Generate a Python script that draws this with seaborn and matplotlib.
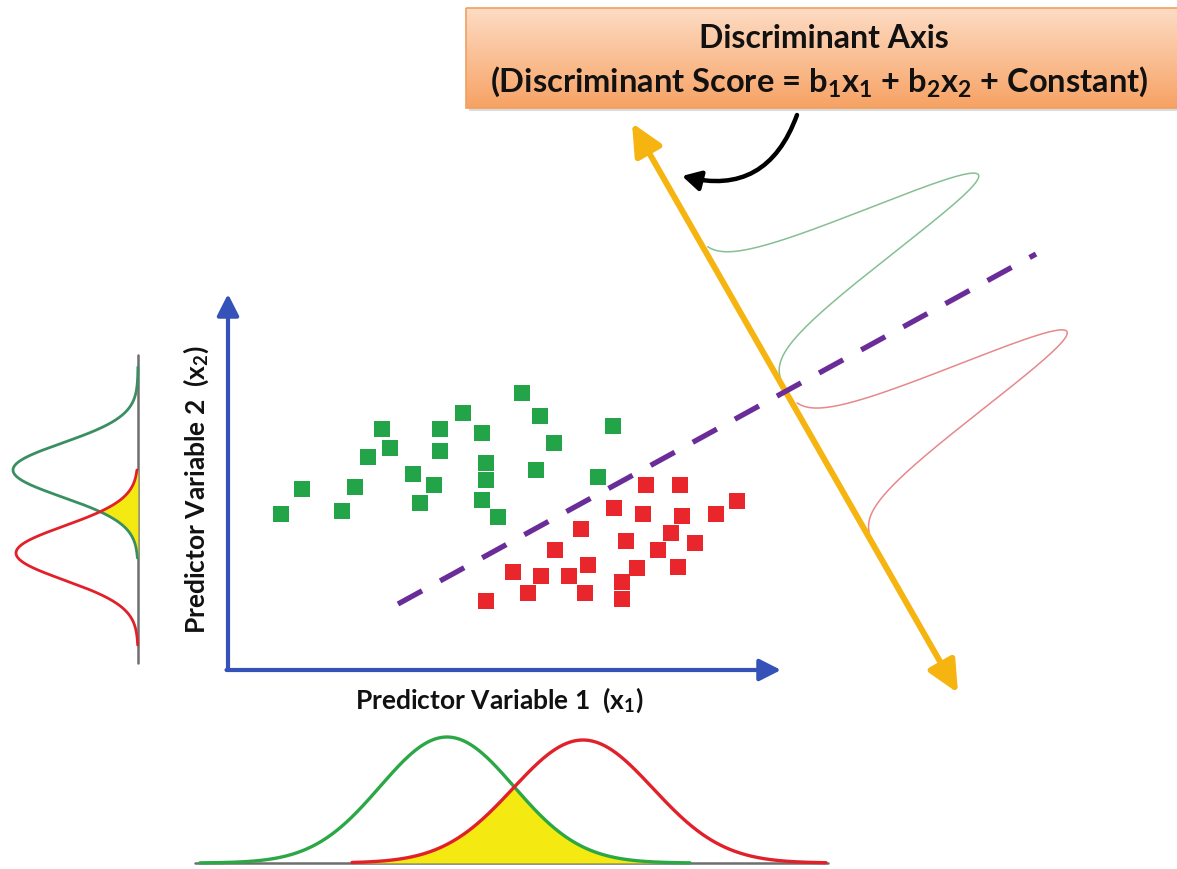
import numpy as np
import pandas as pd
import matplotlib
matplotlib.use("Agg")
import matplotlib.pyplot as plt
from matplotlib.patches import FancyArrowPatch, Rectangle
from matplotlib.colors import to_rgb
import seaborn as sns

# ---------------------------------------------------------------- data
# group A (green) and group B (red) observations, (x1, x2) in canvas units
green_x1 = [522, 463, 540, 613, 382, 440, 482, 390, 440, 554, 368, 486,
            536, 413, 598, 486, 302, 355, 434, 482, 420, 281, 342, 498]
green_x2 = [393, 413, 416, 426, 429, 429, 433, 448, 451, 443, 457, 463,
            470, 474, 477, 480, 489, 487, 485, 500, 503, 514, 511, 517]
red_x1 = [646, 680, 737, 614, 643, 682, 716, 581, 671, 626, 695, 555,
          658, 588, 637, 678, 513, 541, 569, 622, 528, 585, 486, 622]
red_x2 = [485, 485, 501, 508, 514, 516, 514, 529, 533, 541, 543, 550,
          550, 565, 568, 567, 572, 576, 576, 582, 593, 593, 601, 599]

# separating (decision) line end points
boundary_x = [398, 1036]
boundary_y = [604, 254]

# discriminant axis end points
disc_axis_x = [632, 958]
disc_axis_y = [123, 693]

# group densities projected on x1 (bottom), x2 (left) and the discriminant axis
x1_means = [447, 583]
x1_sds = [67, 70]
x1_peaks = [126, 123]
x2_means = [470, 553]
x2_sds = [27, 27]
x2_peaks = [125, 122]
disc_means = [217, 397]      # position along the discriminant axis
disc_sds = [25, 25]
disc_peaks = [275, 274]

title_line1 = "Discriminant Axis"
title_line2 = (r"(Discriminant Score = b$_\mathbf{1}$x$_\mathbf{1}$ + "
               r"b$_\mathbf{2}$x$_\mathbf{2}$ + Constant)")
xlabel = r"Predictor Variable 1  (x$_\mathbf{1}$)"
ylabel = r"Predictor Variable 2  (x$_\mathbf{2}$)"

# ---------------------------------------------------------------- style
sns.set_style("white")
plt.rcParams["font.family"] = ["Lato", "DejaVu Sans"]
plt.rcParams["mathtext.fontset"] = "custom"
plt.rcParams["mathtext.rm"] = "Lato"
plt.rcParams["mathtext.bf"] = "Lato:bold"
plt.rcParams["mathtext.it"] = "Lato:italic"

GREEN = "#23a449"
RED = "#e8262c"
BLUE = "#3452b8"
GOLD = "#f5b40f"
PURPLE = "#6a2c98"
YELLOW = "#f4ea12"
GREY = "#6e6e6e"

W, H = 1177, 869
fig = plt.figure(figsize=(W / 100, H / 100), dpi=100)
ax = fig.add_axes([0, 0, 1, 1])


def npdf(x, mu, sd, peak):
    return peak * np.exp(-0.5 * ((x - mu) / sd) ** 2)


# ---------------------------------------------------------------- header box
top_c = np.array(to_rgb("#fddcc4"))
bot_c = np.array(to_rgb("#f7a264"))
frac = np.linspace(0, 1, 100)[:, None]
grad = (top_c * (1 - frac) + bot_c * frac)[:, None, :]
ax.add_patch(Rectangle((469, 11), 730, 100, facecolor="#9a9a9a", alpha=0.35,
                       edgecolor="none", zorder=1))
ax.imshow(grad, extent=[466, 1195, 108, 8], aspect="auto", zorder=2)
ax.add_patch(Rectangle((466, 8), 729, 100, facecolor="none",
                       edgecolor="#f0a060", lw=1.2, zorder=3))
ax.text(824, 38, title_line1, ha="center", va="center", fontsize=23,
        fontweight="bold", color="#111111", zorder=4)
ax.text(819, 82, title_line2, ha="center", va="center", fontsize=23.5,
        fontweight="bold", color="#111111", zorder=4)

# curved pointer from the box to the discriminant axis
ax.add_patch(FancyArrowPatch((797, 115), (682, 176),
                             connectionstyle="arc3,rad=-0.45",
                             arrowstyle="-|>,head_length=0.55,head_width=0.3",
                             mutation_scale=20, lw=3.2, color="black",
                             shrinkA=0, shrinkB=0, zorder=5))

# ---------------------------------------------------------------- predictor axes
corner = (228, 670)
ax.add_patch(FancyArrowPatch(corner, (228, 294),
                             arrowstyle="-|>,head_length=0.65,head_width=0.33",
                             mutation_scale=20, lw=3, color=BLUE,
                             shrinkA=0, shrinkB=0, zorder=3))
ax.add_patch(FancyArrowPatch((226.5, 670), (781, 670),
                             arrowstyle="-|>,head_length=0.65,head_width=0.33",
                             mutation_scale=20, lw=3, color=BLUE,
                             shrinkA=0, shrinkB=0, zorder=3))
ax.text(499, 700, xlabel, ha="center", va="center", fontsize=19,
        fontweight="bold", color="#111111")
ax.text(196, 490, ylabel, ha="center", va="center", fontsize=19,
        fontweight="bold", color="#111111", rotation=90)

# ---------------------------------------------------------------- observations
df = pd.DataFrame({
    "x1": green_x1 + red_x1,
    "x2": green_x2 + red_x2,
    "group": ["A"] * len(green_x1) + ["B"] * len(red_x1),
})
sns.scatterplot(data=df, x="x1", y="x2", hue="group",
                palette={"A": GREEN, "B": RED}, marker="s", s=120,
                linewidth=0, legend=False, ax=ax, zorder=4)

# decision boundary
ax.plot(boundary_x, boundary_y, color=PURPLE, lw=3.8,
        dashes=(5.2, 3.9), solid_capstyle="butt", dash_capstyle="butt",
        zorder=5)

# ---------------------------------------------------------------- discriminant axis
ax.add_patch(FancyArrowPatch((disc_axis_x[0], disc_axis_y[0]),
                             (disc_axis_x[1], disc_axis_y[1]),
                             arrowstyle="<|-|>,head_length=0.95,head_width=0.45",
                             mutation_scale=20, lw=4.3, color=GOLD,
                             shrinkA=0, shrinkB=0, zorder=4))

p0 = np.array([disc_axis_x[0], disc_axis_y[0]], float)
u = np.array([disc_axis_x[1] - disc_axis_x[0],
              disc_axis_y[1] - disc_axis_y[0]], float)
u /= np.linalg.norm(u)
nrm = np.array([u[1], -u[0]])
for mu, sd, pk, col, lo, hi in [
        (disc_means[0], disc_sds[0], disc_peaks[0], "#86bf93", -72, 82),
        (disc_means[1], disc_sds[1], disc_peaks[1], "#e6888c", -72, 76)]:
    t = np.linspace(mu + lo, mu + hi, 400)
    h = npdf(t, mu, sd, pk)
    pts = p0[None, :] + t[:, None] * u[None, :] + h[:, None] * nrm[None, :]
    ax.plot(pts[:, 0], pts[:, 1], color=col, lw=1.1, zorder=3)

# ---------------------------------------------------------------- bottom densities (x1)
base_y = 863
ax.plot([195, 828], [base_y, base_y], color=GREY, lw=1.8, zorder=2)
xg = np.linspace(200, 690, 500)
xr = np.linspace(352, 826, 500)
gx = npdf(xg, x1_means[0], x1_sds[0], x1_peaks[0])
rx = npdf(xr, x1_means[1], x1_sds[1], x1_peaks[1])
xo = np.linspace(352, 690, 400)
ov = np.minimum(npdf(xo, x1_means[0], x1_sds[0], x1_peaks[0]),
                npdf(xo, x1_means[1], x1_sds[1], x1_peaks[1]))
ax.fill_between(xo, base_y, base_y - ov, color=YELLOW, lw=0, zorder=2)
ax.plot(xg, base_y - gx, color="#2ba845", lw=2.4, zorder=3)
ax.plot(xr, base_y - rx, color="#e2202a", lw=2.4, zorder=3)

# ---------------------------------------------------------------- left densities (x2)
base_x = 138
ax.plot([base_x, base_x], [355, 663], color=GREY, lw=1.8, zorder=2)
yg = np.linspace(367, 558, 400)
yr = np.linspace(470, 645, 400)
gy = npdf(yg, x2_means[0], x2_sds[0], x2_peaks[0])
ry = npdf(yr, x2_means[1], x2_sds[1], x2_peaks[1])
yo = np.linspace(470, 558, 300)
ovy = np.minimum(npdf(yo, x2_means[0], x2_sds[0], x2_peaks[0]),
                 npdf(yo, x2_means[1], x2_sds[1], x2_peaks[1]))
ax.fill_betweenx(yo, base_x, base_x - ovy, color=YELLOW, lw=0, zorder=2)
ax.plot(base_x - gy, yg, color="#3a8f62", lw=2.0, zorder=3)
ax.plot(base_x - ry, yr, color="#e2202a", lw=2.0, zorder=3)

ax.set_xlim(0, W)
ax.set_ylim(H, 0)
ax.axis("off")
fig.savefig("out.png", dpi=100, facecolor="white")
